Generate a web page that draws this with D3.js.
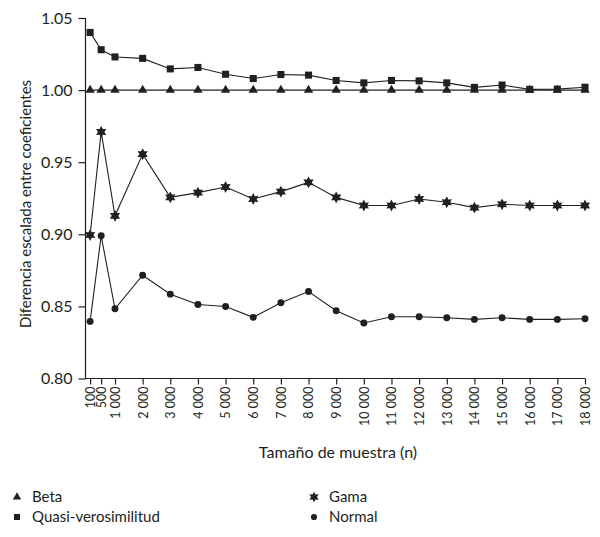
<!DOCTYPE html>
<html>
<head>
<meta charset="utf-8">
<script src="https://cdn.jsdelivr.net/npm/d3@7"></script>
<style>
  body { margin: 0; background: #fff; }
  svg text { font-family: Lato, "Open Sans", sans-serif; fill: #231f20; }
</style>
</head>
<body>
<div id="chart"></div>
<script>
// --- Data ---
const sampleSizes = [100, 500, 1000, 2000, 3000, 4000, 5000, 6000, 7000, 8000, 9000,
  10000, 11000, 12000, 13000, 14000, 15000, 16000, 17000, 18000];
const tickLabels = ["100", "500", "1 000", "2 000", "3 000", "4 000", "5 000", "6 000", "7 000",
  "8 000", "9 000", "10 000", "11 000", "12 000", "13 000", "14 000", "15 000", "16 000", "17 000", "18 000"];
const betaValues = [1.000, 1.000, 1.000, 1.000, 1.000, 1.000, 1.000, 1.000, 1.000, 1.000,
  1.000, 1.000, 1.000, 1.000, 1.000, 1.000, 1.000, 1.000, 1.000, 1.000];
const quasiValues = [1.040, 1.028, 1.023, 1.022, 1.0147, 1.0157, 1.011, 1.008, 1.0108, 1.0104,
  1.0067, 1.005, 1.0067, 1.0064, 1.005, 1.0019, 1.0035, 1.0005, 1.0007, 1.002];
const gamaValues = [0.8995, 0.971, 0.9128, 0.9556, 0.9256, 0.9289, 0.9328, 0.9245, 0.9296, 0.936,
  0.9256, 0.920, 0.920, 0.9245, 0.9222, 0.9185, 0.9208, 0.920, 0.920, 0.920];
const normalValues = [0.8396, 0.899, 0.8483, 0.8716, 0.8585, 0.8513, 0.8499, 0.8424, 0.8525, 0.8603,
  0.847, 0.8385, 0.8428, 0.8428, 0.8421, 0.841, 0.8421, 0.841, 0.841, 0.8414];
const yTicks = [0.80, 0.85, 0.90, 0.95, 1.00, 1.05];

// six-point star symbol
const symbolStar6 = {
  draw(context, size) {
    const R = Math.sqrt(size / 1.6), r = R * 0.55;
    for (let i = 0; i < 12; i++) {
      const a = Math.PI / 6 * i - Math.PI / 2;
      const rad = i % 2 === 0 ? R : r;
      const px = rad * Math.cos(a), py = rad * Math.sin(a);
      if (i === 0) context.moveTo(px, py); else context.lineTo(px, py);
    }
    context.closePath();
  }
};

const series = [
  { name: "Beta", values: betaValues, symbol: d3.symbolTriangle, size: 38, lsize: 30 },
  { name: "Quasi-verosimilitud", values: quasiValues, symbol: d3.symbolSquare, size: 50, lsize: 36 },
  { name: "Gama", values: gamaValues, symbol: symbolStar6, size: 56, lsize: 46 },
  { name: "Normal", values: normalValues, symbol: d3.symbolCircle, size: 38, lsize: 30 }
];

// --- SVG Setup ---
const width = 600, height = 537;
const ink = "#231f20";

const svg = d3.select("#chart").append("svg")
  .attr("width", width)
  .attr("height", height);

const x = d3.scaleLinear().domain([0, 18000]).range([87.35, 585]);
const y = d3.scaleLinear().domain([0.80, 1.05]).range([378.5, 18]);

// --- Axes ---
const yAxis = svg.append("g")
  .attr("transform", "translate(85.5,0)")
  .call(d3.axisLeft(y).tickValues(yTicks).tickFormat(d3.format(".2f")).tickSize(7).tickPadding(6));
yAxis.select(".domain").attr("d", `M0,${y(1.05)}V${y(0.80)}`);

const xAxis = svg.append("g")
  .attr("transform", `translate(0,${y(0.80)})`)
  .call(d3.axisBottom(x).tickValues(sampleSizes).tickFormat((d, i) => tickLabels[i]).tickSize(6));
xAxis.select(".domain").attr("d", `M85,0H${x(18000)}`);
xAxis.selectAll(".tick text")
  .attr("transform", "rotate(-90)")
  .attr("text-anchor", "end")
  .attr("x", -8)
  .attr("y", 0)
  .attr("dy", "0.35em");

svg.selectAll(".domain, .tick line").attr("stroke", ink).attr("stroke-width", 1.2);
yAxis.selectAll(".tick text").attr("font-size", 16).attr("fill", ink);
xAxis.selectAll(".tick text").attr("font-size", 12.5).attr("fill", ink);
svg.selectAll(".tick text").style("font-family", "Lato, 'Open Sans', sans-serif");

// --- Axis titles ---
svg.append("text")
  .attr("transform", "translate(31,204) rotate(-90)")
  .attr("text-anchor", "middle")
  .attr("font-size", 15)
  .text("Diferencia escalada entre coeficientes");

svg.append("text")
  .attr("x", 338)
  .attr("y", 458)
  .attr("text-anchor", "middle")
  .attr("font-size", 16)
  .text("Tamaño de muestra (n)");

// --- Lines and markers ---
const line = d3.line()
  .x((d, i) => x(sampleSizes[i]))
  .y(d => y(d));

series.forEach(s => {
  svg.append("path")
    .datum(s.values)
    .attr("fill", "none")
    .attr("stroke", ink)
    .attr("stroke-width", 1.1)
    .attr("d", line);

  svg.selectAll(null)
    .data(s.values)
    .enter()
    .append("path")
    .attr("transform", (d, i) => `translate(${x(sampleSizes[i])},${y(d)})`)
    .attr("d", d3.symbol().type(s.symbol).size(s.size))
    .attr("fill", ink);
});

// --- Legend ---
const legendPos = [[17, 497], [17, 517], [314, 497], [314, 517]];
series.forEach((s, i) => {
  const g = svg.append("g").attr("transform", `translate(${legendPos[i][0]},${legendPos[i][1]})`);
  g.append("path")
    .attr("d", d3.symbol().type(s.symbol).size(s.lsize))
    .attr("fill", ink);
  g.append("text")
    .attr("x", 15)
    .attr("dy", "0.35em")
    .attr("font-size", 15)
    .text(s.name);
});
</script>
</body>
</html>
